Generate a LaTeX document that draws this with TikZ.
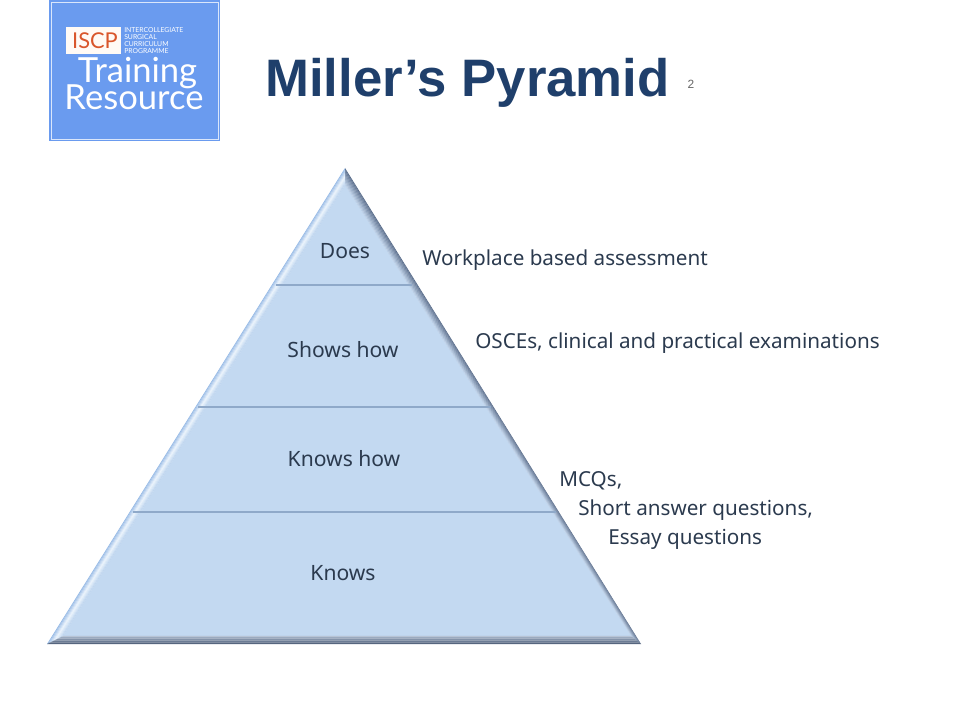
\documentclass[tikz,border=0pt]{standalone}
\usepackage{fontspec}
\setmainfont{Noto Sans}
\newfontfamily\titlefont{Liberation Sans}
\newfontfamily\logofont{Lato}
\usetikzlibrary{calc}
\definecolor{titleblue}{HTML}{1F3F6B}
\definecolor{labeltext}{HTML}{2B3A4E}
\definecolor{layerblue}{HTML}{C3D9F1}
\definecolor{layerline}{HTML}{8FA9C9}
\definecolor{logoblue}{HTML}{6A9BEF}
\definecolor{iscporange}{HTML}{D9562B}
\definecolor{leftouter}{HTML}{98BBE6}
\definecolor{leftglow}{HTML}{EAF3FC}
\definecolor{leftinner}{HTML}{BBD3EE}
\definecolor{rightouter}{HTML}{5B6E8C}
\definecolor{rightinner}{HTML}{BCD0E8}
\definecolor{baseouter}{HTML}{53637C}
\definecolor{baseinner}{HTML}{A9B8CC}
\tikzset{
  layerlabel/.style={text=labeltext,font=\fontsize{15}{17}\selectfont},
  sidelabel/.style={anchor=base west,inner sep=0pt,text=labeltext,font=\fontsize{14.7}{17}\selectfont},
  logoline/.style={anchor=base west,text=white,inner sep=0pt,font=\logofont\fontsize{4.85}{5}\selectfont},
  logoword/.style={anchor=base,text=white,inner sep=0pt,font=\logofont\fontsize{24.6}{26}\selectfont},
  layerrule/.style={layerline,line width=1.1pt},
}
\begin{document}
\begin{tikzpicture}[x=0.025cm,y=-0.025cm]
    \useasboundingbox (0,0) rectangle (960,720);

    % logo
    \fill[logoblue] (49,0) rectangle (220,141);
    \draw[white!75!logoblue,semithick] (51,2) rectangle (218,139);
    \fill[white!96!orange] (66,27) rectangle (121,54);
    \node[text=iscporange,font=\logofont\fontsize{15.5}{17}\selectfont] (iscp) at (95,41) {ISCP};
    \node[logoline] (logoa) at (124,32.5) {INTERCOLLEGIATE};
    \node[logoline] (logob) at (124,39.5) {SURGICAL};
    \node[logoline] (logoc) at (124,47) {CURRICULUM};
    \node[logoline] (logod) at (124,54) {PROGRAMME};
    \node[logoword] (training) at (137.5,83) {Training};
    \node[logoword] (resource) at (134,110) {Resource};

    % title
    \node[anchor=base west,inner sep=0pt,text=titleblue,font=\titlefont\bfseries\fontsize{37.5}{42}\selectfont] (title) at (265,97) {Miller’s Pyramid};
    \node[text=black!60,inner sep=0pt,font=\titlefont\fontsize{8.5}{10}\selectfont] (note) at (691,84) {2};

    % pyramid
    \coordinate (oa) at (345,168);
    \coordinate (ob) at (47,644);
    \coordinate (oc) at (641,644);
    \coordinate (ia) at (345,185);
    \coordinate (ib) at (63,636);
    \coordinate (ic) at (631,636);
    \fill[layerblue] (ia) -- (ib) -- (ic) -- cycle;
    \foreach \s in {0,...,11} {
        \pgfmathsetmacro{\ta}{\s/12}
        \pgfmathsetmacro{\tb}{(\s+1.15)/12}
        \pgfmathsetmacro{\mr}{\s*9}
        \ifnum\s<6
            \pgfmathsetmacro{\ml}{\s*18}
            \colorlet{leftstep}{leftglow!\ml!leftouter}
        \else
            \pgfmathsetmacro{\ml}{100-(\s-6)*18}
            \colorlet{leftstep}{leftglow!\ml!leftinner}
        \fi
        \colorlet{rightstep}{rightinner!\mr!rightouter}
        \colorlet{basestep}{baseinner!\mr!baseouter}
        \fill[leftstep] ($(oa)!\ta!(ia)$) -- ($(ob)!\ta!(ib)$) -- ($(ob)!\tb!(ib)$) -- ($(oa)!\tb!(ia)$) -- cycle;
        \fill[rightstep] ($(oa)!\ta!(ia)$) -- ($(oc)!\ta!(ic)$) -- ($(oc)!\tb!(ic)$) -- ($(oa)!\tb!(ia)$) -- cycle;
        \fill[basestep] ($(ob)!\ta!(ib)$) -- ($(oc)!\ta!(ic)$) -- ($(oc)!\tb!(ic)$) -- ($(ob)!\tb!(ib)$) -- cycle;
    }
    \draw[layerrule] (276,285) -- (412,285);
    \draw[layerrule] (198,407) -- (491,407);
    \draw[layerrule] (133,512) -- (556,512);

    % layer names
    \node[layerlabel] (does) at (345,251) {Does};
    \node[layerlabel] (shows) at (343,350) {Shows how};
    \node[layerlabel] (knowshow) at (344,459) {Knows how};
    \node[layerlabel] (knows) at (343,573) {Knows};

    % assessments
    \node[sidelabel] (wba) at (422,266) {Workplace based assessment};
    \node[sidelabel] (osce) at (475,349) {OSCEs, clinical and practical examinations};
    \node[sidelabel] (mcq) at (559,486.5) {MCQs,};
    \node[sidelabel] (saq) at (578,515.5) {Short answer questions,};
    \node[sidelabel] (essay) at (608,544.5) {Essay questions};
\end{tikzpicture}
\end{document}
